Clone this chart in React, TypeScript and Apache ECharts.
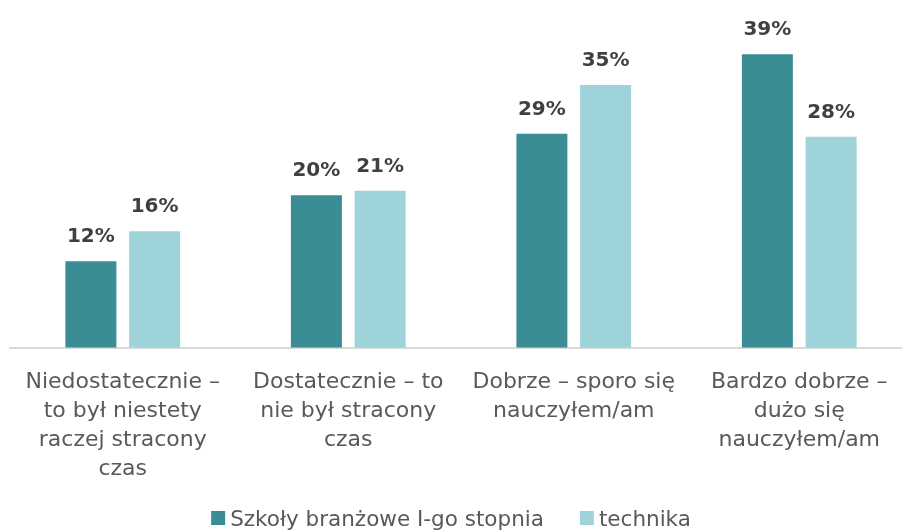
import React, { useEffect, useRef } from "react";
import * as echarts from "echarts";

const categories = [
  "Niedostatecznie –\nto był niestety\nraczej stracony\nczas",
  "Dostatecznie – to\nnie był stracony\nczas",
  "Dobrze – sporo się\nnauczyłem/am",
  "Bardzo dobrze –\ndużo się\nnauczyłem/am",
];
const seriesNames = ["Szkoły branżowe I-go stopnia", "technika"];
const branzowe = [11.5, 20.3, 28.5, 39.1];
const technika = [15.5, 20.9, 35.0, 28.1];
const colors = ["#3A8D95", "#9DD3D9"];

export default function App() {
  const ref = useRef<HTMLDivElement>(null);
  useEffect(() => {
    if (!ref.current) return;
    const chart = echarts.init(ref.current, undefined, { renderer: "svg" });
    const label = {
      show: true,
      position: "top",
      distance: 16,
      formatter: (p: any) => Math.round(p.value) + "%",
      fontFamily: "DejaVu Sans",
      fontWeight: "bold",
      fontSize: 20,
      color: "#404040",
    };
    chart.setOption({
      animation: false,
      textStyle: { fontFamily: "DejaVu Sans" },
      grid: {
        left: 10,
        width: 902,
        top: 47.5,
        bottom: 183.5,
        outerBoundsMode: "none",
        containLabel: false,
      },
      legend: {
        bottom: -3,
        left: "center",
        itemWidth: 14,
        itemHeight: 14,
        itemGap: 36,
        icon: "rect",
        textStyle: { fontSize: 21.5, color: "#595959", fontFamily: "DejaVu Sans" },
        data: seriesNames,
      },
      xAxis: {
        type: "category",
        data: categories,
        axisLine: { lineStyle: { color: "#D9D9D9", width: 2 } },
        axisTick: { show: false },
        axisLabel: {
          interval: 0,
          margin: 18,
          fontSize: 22,
          lineHeight: 29,
          color: "#595959",
          fontFamily: "DejaVu Sans",
        },
      },
      yAxis: {
        type: "value",
        min: 0,
        max: 40,
        show: false,
        splitLine: { show: false },
      },
      series: [
        {
          name: seriesNames[0],
          type: "bar",
          data: branzowe,
          itemStyle: { color: colors[0] },
          barWidth: 51,
          barGap: "25%",
          label,
        },
        {
          name: seriesNames[1],
          type: "bar",
          data: technika,
          itemStyle: { color: colors[1] },
          barWidth: 51,
          barGap: "25%",
          label,
        },
      ],
    });
    return () => chart.dispose();
  }, []);
  return (
    <div
      ref={ref}
      style={{ position: "fixed", left: 0, top: 0, width: 902, height: 531, overflow: "hidden" }}
    />
  );
}
